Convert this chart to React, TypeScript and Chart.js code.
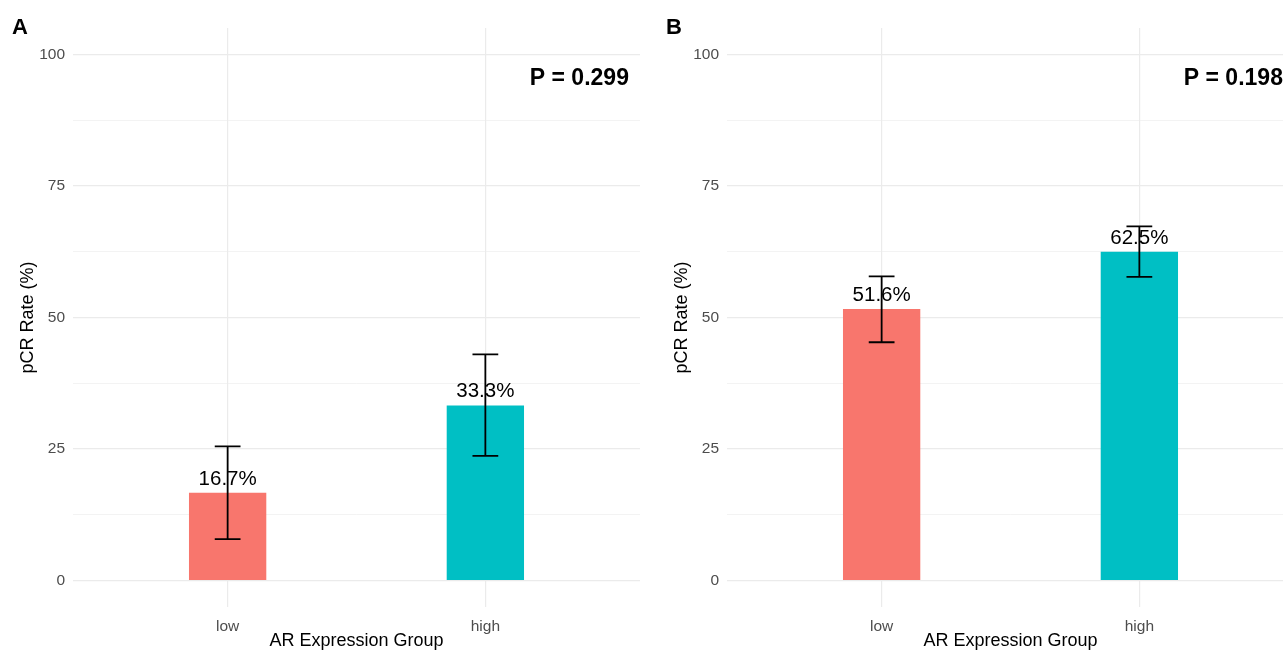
import React, { useEffect, useRef } from "react";
import { Chart, registerables } from "chart.js";
Chart.register(...registerables);

const FAMILY = "'Liberation Sans', Arial, Helvetica, sans-serif";

const CATEGORIES = ["low", "high"];
const CATEGORY_POS = [1, 2];
const BAR_COLORS = ["#F8766D", "#00BFC4"];

const RATE_A = [16.7, 33.3];
const LOWER_A = [7.9, 23.7];
const UPPER_A = [25.5, 43.0];
const P_TEXT_A = "P = 0.299";

const RATE_B = [51.6, 62.5];
const LOWER_B = [45.3, 57.7];
const UPPER_B = [57.8, 67.3];
const P_TEXT_B = "P = 0.198";

const Y_TICKS = [0, 12.5, 25, 37.5, 50, 62.5, 75, 87.5, 100];
const Y_MAJOR = [0, 25, 50, 75, 100];

const P_X = 2.557;
const P_Y = 95.3;

type PanelProps = {
  letter: string;
  rates: number[];
  lower: number[];
  upper: number[];
  pText: string;
};

function Panel({ letter, rates, lower, upper, pText }: PanelProps) {
  const ref = useRef<HTMLCanvasElement | null>(null);

  useEffect(() => {
    if (!ref.current) return;
    const overlay = {
      id: "overlay",
      afterDatasetsDraw(chart: any) {
        const { ctx, scales } = chart;
        const x = scales.x;
        const y = scales.y;
        ctx.save();
        // value labels
        ctx.font = `20.5px ${FAMILY}`;
        ctx.fillStyle = "#000";
        ctx.textAlign = "center";
        ctx.textBaseline = "alphabetic";
        rates.forEach((r, i) => {
          ctx.fillText(`${r.toFixed(1)}%`, x.getPixelForValue(CATEGORY_POS[i]), y.getPixelForValue(r) - 8);
        });
        // error bars
        ctx.strokeStyle = "#000";
        ctx.lineWidth = 1.8;
        const half = x.getPixelForValue(0.05) - x.getPixelForValue(0);
        rates.forEach((_, i) => {
          const cx = x.getPixelForValue(CATEGORY_POS[i]);
          const yl = y.getPixelForValue(lower[i]);
          const yu = y.getPixelForValue(upper[i]);
          ctx.beginPath();
          ctx.moveTo(cx, yl);
          ctx.lineTo(cx, yu);
          ctx.moveTo(cx - half, yl);
          ctx.lineTo(cx + half, yl);
          ctx.moveTo(cx - half, yu);
          ctx.lineTo(cx + half, yu);
          ctx.stroke();
        });
        // P value
        ctx.font = `bold 23px ${FAMILY}`;
        ctx.textAlign = "right";
        ctx.textBaseline = "middle";
        ctx.fillText(pText, x.getPixelForValue(P_X), y.getPixelForValue(P_Y));
        // panel letter
        ctx.font = `bold 22px ${FAMILY}`;
        ctx.textAlign = "left";
        ctx.textBaseline = "alphabetic";
        ctx.fillText(letter, 12, 34);
        ctx.restore();
      },
    };

    const chart = new Chart(ref.current, {
      type: "bar",
      data: {
        datasets: [
          {
            data: rates.map((r, i) => ({ x: CATEGORY_POS[i], y: r })),
            backgroundColor: BAR_COLORS,
            barPercentage: 0.3,
            categoryPercentage: 1,
            borderWidth: 0,
          },
        ],
      },
      options: {
        responsive: false,
        animation: false,
        layout: { padding: { top: 28, right: 14, left: 0, bottom: 0 } },
        plugins: { legend: { display: false }, tooltip: { enabled: false } },
        scales: {
          x: {
            type: "linear",
            min: 0.4,
            max: 2.6,
            offset: false,
            afterBuildTicks: (s: any) => {
              s.ticks = CATEGORY_POS.map((v) => ({ value: v }));
            },
            afterFit: (s: any) => {
              s.height = 45;
            },
            grid: { color: "#ebebeb", lineWidth: 1.2, drawTicks: false, offset: false },
            border: { display: false },
            ticks: {
              color: "#4d4d4d",
              font: { size: 15.5, family: FAMILY },
              padding: 10,
              maxRotation: 0,
              autoSkip: false,
              callback: (v: any) => {
                const idx = CATEGORY_POS.indexOf(Number(v));
                return idx >= 0 ? CATEGORIES[idx] : "";
              },
            },
            title: {
              display: true,
              text: "AR Expression Group",
              color: "#000",
              font: { size: 18, family: FAMILY },
              padding: { top: 0, bottom: 0 },
            },
          },
          y: {
            type: "linear",
            min: -5,
            max: 105,
            afterBuildTicks: (s: any) => {
              s.ticks = Y_TICKS.map((v) => ({ value: v }));
            },
            afterFit: (s: any) => {
              s.width = 73;
            },
            grid: {
              color: "#ebebeb",
              drawTicks: false,
              lineWidth: (c: any) => (c.tick && Y_MAJOR.includes(c.tick.value) ? 1.2 : 0.6),
            },
            border: { display: false },
            ticks: {
              color: "#4d4d4d",
              font: { size: 15.5, family: FAMILY },
              padding: 8,
              autoSkip: false,
              callback: (v: any) => (Y_MAJOR.includes(Number(v)) ? String(v) : ""),
            },
            title: {
              display: true,
              text: "pCR Rate (%)",
              color: "#000",
              font: { size: 18, family: FAMILY },
              padding: { top: 17, bottom: 0 },
            },
          },
        },
      },
      plugins: [overlay],
    } as any);
    return () => chart.destroy();
  }, [letter, rates, lower, upper, pText]);

  return <canvas ref={ref} width={654} height={652} style={{ display: "block" }} />;
}

export default function App() {
  return (
    <div
      style={{
        position: "fixed",
        left: 0,
        top: 0,
        width: 1283,
        height: 652,
        overflow: "hidden",
        background: "#fff",
      }}
    >
      <div style={{ position: "absolute", left: 0, top: 0, width: 654, height: 652 }}>
        <Panel letter="A" rates={RATE_A} lower={LOWER_A} upper={UPPER_A} pText={P_TEXT_A} />
      </div>
      <div style={{ position: "absolute", left: 654, top: 0, width: 654, height: 652 }}>
        <Panel letter="B" rates={RATE_B} lower={LOWER_B} upper={UPPER_B} pText={P_TEXT_B} />
      </div>
    </div>
  );
}
